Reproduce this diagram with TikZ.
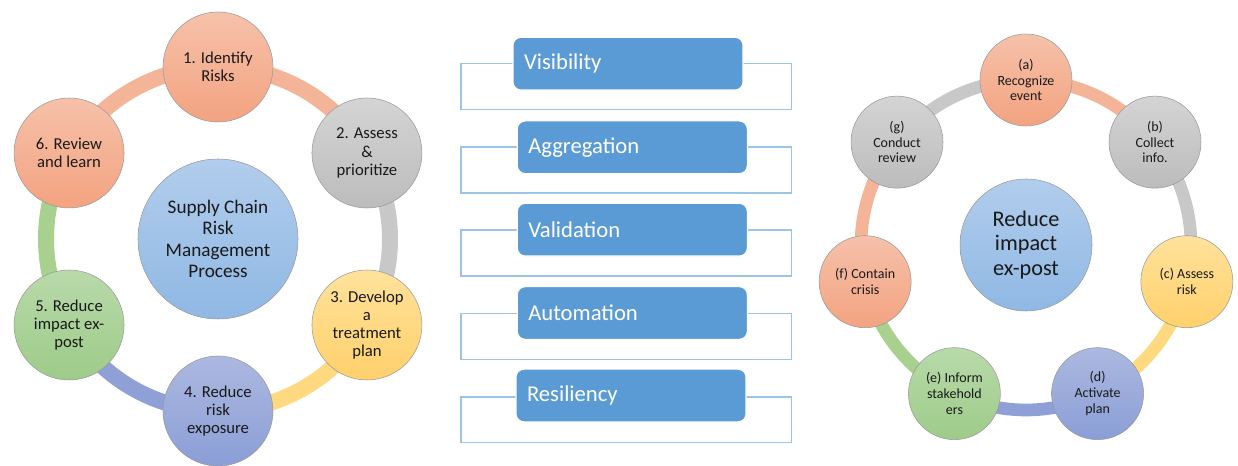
\documentclass[tikz,border=0pt]{standalone}
\usepackage{fontspec}
\setmainfont{Carlito}
\usetikzlibrary{backgrounds}
\definecolor{salT}{RGB}{246,193,170}
\definecolor{salB}{RGB}{243,163,128}
\definecolor{gryT}{RGB}{212,212,212}
\definecolor{gryB}{RGB}{188,188,188}
\definecolor{yelT}{RGB}{255,226,155}
\definecolor{yelB}{RGB}{255,208,108}
\definecolor{bluT}{RGB}{172,184,224}
\definecolor{bluB}{RGB}{138,158,214}
\definecolor{grnT}{RGB}{184,218,170}
\definecolor{grnB}{RGB}{158,203,137}
\definecolor{cenT}{RGB}{178,205,236}
\definecolor{cenB}{RGB}{143,184,228}
\definecolor{rSal}{RGB}{244,180,152}
\definecolor{rGry}{RGB}{200,200,200}
\definecolor{rYel}{RGB}{255,217,128}
\definecolor{rBlu}{RGB}{143,160,214}
\definecolor{rGrn}{RGB}{168,208,143}
\definecolor{boxBlue}{RGB}{91,155,213}
\definecolor{frameBlue}{RGB}{157,195,230}
\definecolor{txt}{RGB}{25,25,25}
\begin{document}
\begin{tikzpicture}[x=0.75pt,y=0.75pt,
  circ/.style={circle, draw=black!40, line width=0.4pt, align=center, inner sep=0pt, text=txt},
  smallL/.style={circ, minimum size=82.5pt, font=\fontsize{12.5}{13.7}\selectfont},
  bigL/.style={circ, minimum size=120pt, font=\fontsize{14.4}{16.1}\selectfont},
  smallR/.style={circ, minimum size=69pt, font=\fontsize{10.5}{11.8}\selectfont},
  bigR/.style={circ, minimum size=99pt, font=\fontsize{16.7}{18.2}\selectfont},
  fsal/.style={top color=salT, bottom color=salB},
  fgry/.style={top color=gryT, bottom color=gryB},
  fyel/.style={top color=yelT, bottom color=yelB},
  fblu/.style={top color=bluT, bottom color=bluB},
  fgrn/.style={top color=grnT, bottom color=grnB},
  fcen/.style={top color=cenT, bottom color=cenB},
  ringL/.style={line width=12pt},
  ringR/.style={line width=9.5pt},
  frame/.style={draw=frameBlue, line width=0.9pt},
  blubox/.style={rectangle, rounded corners=6pt, fill=boxBlue, draw=white, line width=0.8pt,
    minimum width=172.5pt, minimum height=39.5pt, text width=156pt, inner xsep=8.25pt,
    align=left, text=white, font=\fontsize{17}{20}\selectfont}
]
\useasboundingbox (0,0) rectangle (1238,-466);

% ---------------- left cycle ----------------
\coordinate (cL) at (218,-239);
\node[smallL, fsal] (L1) at ([shift={(90:172)}]cL) {1. Identify\\Risks};
\node[smallL, fgry] (L2) at ([shift={(30:172)}]cL) {2. Assess\\\&\\prioritize};
\node[smallL, fyel] (L3) at ([shift={(-30:172)}]cL) {3. Develop\\a\\treatment\\plan};
\node[smallL, fblu] (L4) at ([shift={(-90:172)}]cL) {4. Reduce\\risk\\exposure};
\node[smallL, fgrn] (L5) at ([shift={(-150:172)}]cL) {5. Reduce\\impact ex-\\post};
\node[smallL, fsal] (L6) at ([shift={(150:172)}]cL) {6. Review\\and learn};
\node[bigL, fcen] (LC) at (cL) {Supply Chain\\Risk\\Management\\Process};
\begin{scope}[on background layer]
  \draw[ringL, rSal] (L1.center) arc[start angle=90, end angle=30, radius=172];
  \draw[ringL, rGry] (L2.center) arc[start angle=30, end angle=-30, radius=172];
  \draw[ringL, rYel] (L3.center) arc[start angle=-30, end angle=-90, radius=172];
  \draw[ringL, rBlu] (L4.center) arc[start angle=-90, end angle=-150, radius=172];
  \draw[ringL, rGrn] (L5.center) arc[start angle=-150, end angle=-210, radius=172];
  \draw[ringL, rSal] (L6.center) arc[start angle=150, end angle=90, radius=172];
\end{scope}

% ---------------- right cycle ----------------
\coordinate (cR) at (1026,-245);
\node[smallR, fsal] (Ra) at ([shift={(90:165)}]cR) {(a)\\Recognize\\event};
\node[smallR, fgry] (Rb) at ([shift={(38.571:165)}]cR) {(b)\\Collect\\info.};
\node[smallR, fyel] (Rc) at ([shift={(-12.857:165)}]cR) {(c) Assess\\risk};
\node[smallR, fblu] (Rd) at ([shift={(-64.286:165)}]cR) {(d)\\Activate\\plan};
\node[smallR, fgrn] (Re) at ([shift={(-115.714:165)}]cR) {(e) Inform\\stakehold\\ers};
\node[smallR, fsal] (Rf) at ([shift={(-167.143:165)}]cR) {(f) Contain\\crisis};
\node[smallR, fgry] (Rg) at ([shift={(141.429:165)}]cR) {(g)\\Conduct\\review};
\node[bigR, fcen] (RC) at (cR) {Reduce\\impact\\ex-post};
\begin{scope}[on background layer]
  \draw[ringR, rSal] (Ra.center) arc[start angle=90, end angle=38.571, radius=165];
  \draw[ringR, rGry] (Rb.center) arc[start angle=38.571, end angle=-12.857, radius=165];
  \draw[ringR, rYel] (Rc.center) arc[start angle=-12.857, end angle=-64.286, radius=165];
  \draw[ringR, rBlu] (Rd.center) arc[start angle=-64.286, end angle=-115.714, radius=165];
  \draw[ringR, rGrn] (Re.center) arc[start angle=-115.714, end angle=-167.143, radius=165];
  \draw[ringR, rSal] (Rf.center) arc[start angle=-167.143, end angle=-218.571, radius=165];
  \draw[ringR, rGry] (Rg.center) arc[start angle=141.429, end angle=90, radius=165];
\end{scope}

% ---------------- middle list ----------------
\draw[frame] (461,-63.5) rectangle (791.5,-109.5);
\draw[frame] (461,-147) rectangle (791.5,-193);
\draw[frame] (461,-230) rectangle (791.5,-276);
\draw[frame] (461,-313.5) rectangle (791.5,-359.5);
\draw[frame] (461,-397) rectangle (791.5,-442.5);
\node[blubox] (B1) at (628,-63.7) {Visibility};
\node[blubox] (B2) at (632.3,-147.3) {Aggregation};
\node[blubox] (B3) at (632.3,-229.7) {Validation};
\node[blubox] (B4) at (632.3,-313) {Automation};
\node[blubox] (B5) at (631,-395.5) {Resiliency};
\end{tikzpicture}
\end{document}
